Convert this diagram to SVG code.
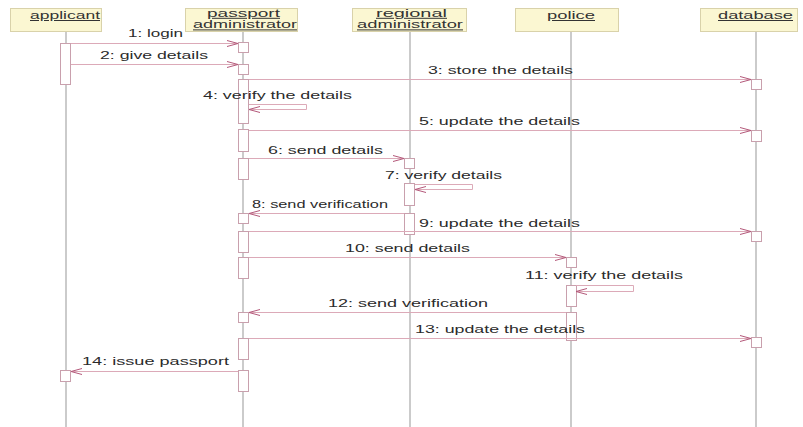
<svg xmlns="http://www.w3.org/2000/svg" width="803" height="427" viewBox="0 0 803 427">
  <style>
    .head { fill: #fbf7d2; stroke: #d9d2aa; stroke-width: 1; }
    .hname { font-family: "Liberation Sans", Arial, sans-serif; font-size: 10px; fill: #333; text-decoration: underline; }
    .life { stroke: #a8a8a8; stroke-width: 1.2; fill: none; }
    .act { fill: #ffffff; stroke: #c9a0ad; stroke-width: 1; }
    .msg { stroke: #dcaab8; stroke-width: 1; fill: none; marker-end: url(#open); }
    .lbl { font-family: "Liberation Sans", Arial, sans-serif; font-size: 10px; fill: #2b2b2b; }
  </style>
  <defs>
    <marker id="open" markerUnits="userSpaceOnUse" markerWidth="14" markerHeight="10" refX="11" refY="4" orient="auto" overflow="visible">
      <path d="M0,1 L11,4 L0,7" fill="none" stroke="#b4587a" stroke-width="1"/>
    </marker>
  </defs>
  <rect width="803" height="427" fill="#ffffff"/>

  <!-- lifeline: applicant -->
  <g id="applicant">
    <line class="life" x1="66" y1="32" x2="66" y2="427"/>
    <rect class="head" x="10.5" y="8.5" width="91" height="23"/>
    <text class="hname" x="30" y="19" textLength="70" lengthAdjust="spacingAndGlyphs">applicant</text>
    <rect class="act" x="60.5" y="43.5" width="10" height="41"/>
    <rect class="act" x="60.5" y="370.5" width="10" height="11"/>
  </g>

  <!-- lifeline: passport administrator -->
  <g id="passport-administrator">
    <line class="life" x1="243" y1="32" x2="243" y2="427"/>
    <rect class="head" x="185.5" y="8.5" width="112" height="23"/>
    <text class="hname" x="207" y="16.8" textLength="73" lengthAdjust="spacingAndGlyphs">passport </text>
    <text class="hname" x="193" y="28.4" textLength="104" lengthAdjust="spacingAndGlyphs">administrator</text>
    <rect class="act" x="238.5" y="42.5" width="10" height="10"/>
    <rect class="act" x="238.5" y="64.5" width="10" height="10"/>
    <rect class="act" x="238.5" y="79.5" width="10" height="44"/>
    <rect class="act" x="238.5" y="129.5" width="10" height="22"/>
    <rect class="act" x="238.5" y="158.5" width="10" height="21"/>
    <rect class="act" x="238.5" y="213.5" width="10" height="10"/>
    <rect class="act" x="238.5" y="231.5" width="10" height="21"/>
    <rect class="act" x="238.5" y="257.5" width="10" height="21"/>
    <rect class="act" x="238.5" y="312.5" width="10" height="10"/>
    <rect class="act" x="238.5" y="338.5" width="10" height="21"/>
    <rect class="act" x="238.5" y="370.5" width="10" height="21"/>
  </g>

  <!-- lifeline: regional administrator -->
  <g id="regional-administrator">
    <line class="life" x1="410" y1="32" x2="410" y2="427"/>
    <rect class="head" x="352.5" y="8.5" width="114" height="23"/>
    <text class="hname" x="376" y="16.8" textLength="71" lengthAdjust="spacingAndGlyphs">regional </text>
    <text class="hname" x="357" y="28.4" textLength="106" lengthAdjust="spacingAndGlyphs">administrator</text>
    <rect class="act" x="404.5" y="158.5" width="10" height="10"/>
    <rect class="act" x="404.5" y="183.5" width="10" height="22"/>
    <rect class="act" x="404.5" y="213.5" width="10" height="21"/>
  </g>

  <!-- lifeline: police -->
  <g id="police">
    <line class="life" x1="571" y1="32" x2="571" y2="427"/>
    <rect class="head" x="515.5" y="8.5" width="103" height="23"/>
    <text class="hname" x="547" y="19" textLength="48" lengthAdjust="spacingAndGlyphs">police</text>
    <rect class="act" x="566.5" y="257.5" width="10" height="10"/>
    <rect class="act" x="566.5" y="285.5" width="10" height="21"/>
    <rect class="act" x="566.5" y="312.5" width="10" height="28"/>
  </g>

  <!-- lifeline: database -->
  <g id="database">
    <line class="life" x1="756" y1="32" x2="756" y2="427"/>
    <rect class="head" x="700.5" y="8.5" width="97" height="23"/>
    <text class="hname" x="718" y="19" textLength="75" lengthAdjust="spacingAndGlyphs">database</text>
    <rect class="act" x="751.5" y="79.5" width="10" height="10"/>
    <rect class="act" x="751.5" y="130.5" width="10" height="11"/>
    <rect class="act" x="751.5" y="231.5" width="10" height="10"/>
    <rect class="act" x="751.5" y="337.5" width="10" height="10"/>
  </g>

  <!-- messages -->
  <g id="messages">
    <path class="msg" d="M71,43.5 H238"/>
    <text class="lbl" x="128" y="37" textLength="55" lengthAdjust="spacingAndGlyphs">1: login</text>

    <path class="msg" d="M71,64.5 H238"/>
    <text class="lbl" x="100" y="59" textLength="108" lengthAdjust="spacingAndGlyphs">2: give details</text>

    <path class="msg" d="M249,79.5 H751"/>
    <text class="lbl" x="428" y="74" textLength="145" lengthAdjust="spacingAndGlyphs">3: store the details</text>

    <path class="msg" d="M249,104.5 H306.5 V109.5 H249"/>
    <text class="lbl" x="203" y="99" textLength="149" lengthAdjust="spacingAndGlyphs">4: verify the details</text>

    <path class="msg" d="M249,130.5 H751"/>
    <text class="lbl" x="419" y="125" textLength="161" lengthAdjust="spacingAndGlyphs">5: update the details</text>

    <path class="msg" d="M249,158.5 H404"/>
    <text class="lbl" x="268" y="154" textLength="115" lengthAdjust="spacingAndGlyphs">6: send details</text>

    <path class="msg" d="M415,184.5 H472.5 V189.5 H415"/>
    <text class="lbl" x="385" y="179" textLength="117" lengthAdjust="spacingAndGlyphs">7: verify details</text>

    <path class="msg" d="M404,213.5 H249"/>
    <text class="lbl" x="252" y="208" textLength="136" lengthAdjust="spacingAndGlyphs">8: send verification</text>

    <path class="msg" d="M249,231.5 H751"/>
    <text class="lbl" x="419" y="227" textLength="161" lengthAdjust="spacingAndGlyphs">9: update the details</text>

    <path class="msg" d="M249,257.5 H566"/>
    <text class="lbl" x="345" y="252" textLength="125" lengthAdjust="spacingAndGlyphs">10: send details</text>

    <path class="msg" d="M576,285.5 H633.5 V291.5 H576"/>
    <text class="lbl" x="525" y="279" textLength="158" lengthAdjust="spacingAndGlyphs">11: verify the details</text>

    <path class="msg" d="M566,312.5 H249"/>
    <text class="lbl" x="328" y="307" textLength="160" lengthAdjust="spacingAndGlyphs">12: send verification</text>

    <path class="msg" d="M249,338.5 H751"/>
    <text class="lbl" x="415" y="333" textLength="170" lengthAdjust="spacingAndGlyphs">13: update the details</text>

    <path class="msg" d="M238,371.5 H71"/>
    <text class="lbl" x="82" y="365" textLength="147" lengthAdjust="spacingAndGlyphs">14: issue passport</text>
  </g>
</svg>
